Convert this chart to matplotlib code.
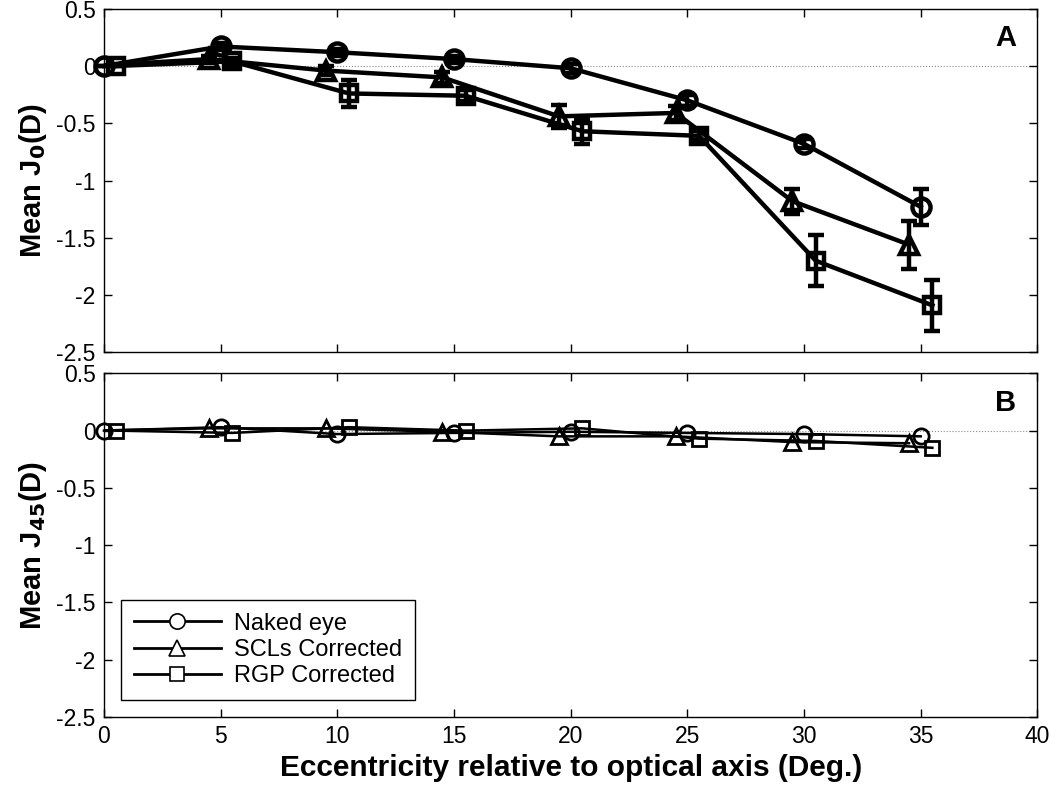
import matplotlib
matplotlib.use("Agg")
import matplotlib.pyplot as plt
from matplotlib.lines import Line2D

plt.rcParams['font.family'] = ['Liberation Sans', 'DejaVu Sans']

ecc = [0, 5, 10, 15, 20, 25, 30, 35]
x_naked = [0, 5, 10, 15, 20, 25, 30, 35]
x_scl = [-0.5, 4.5, 9.5, 14.5, 19.5, 24.5, 29.5, 34.5]
x_rgp = [0.5, 5.5, 10.5, 15.5, 20.5, 25.5, 30.5, 35.5]

# Panel A: Mean J0 (D)
j0_naked = [0.0, 0.17, 0.12, 0.06, -0.02, -0.30, -0.68, -1.23]
j0_naked_err = [0.0, 0.03, 0.03, 0.03, 0.04, 0.05, 0.04, 0.16]
j0_scl = [0.0, 0.06, -0.04, -0.10, -0.44, -0.41, -1.18, -1.56]
j0_scl_err = [0.0, 0.03, 0.04, 0.05, 0.10, 0.06, 0.11, 0.21]
j0_rgp = [0.0, 0.04, -0.24, -0.26, -0.57, -0.61, -1.70, -2.09]
j0_rgp_err = [0.0, 0.03, 0.12, 0.05, 0.11, 0.04, 0.22, 0.22]

# Panel B: Mean J45 (D)
j45_naked = [0.0, 0.03, -0.03, -0.02, -0.01, -0.02, -0.03, -0.05]
j45_scl = [0.0, 0.02, 0.02, -0.01, -0.05, -0.05, -0.10, -0.11]
j45_rgp = [0.0, -0.02, 0.03, 0.00, 0.02, -0.07, -0.09, -0.15]

legend_labels = ["Naked eye", "SCLs Corrected", "RGP Corrected"]
yticks = [-2.5, -2, -1.5, -1, -0.5, 0, 0.5]
ytick_labels = ["-2.5", "-2", "-1.5", "-1", "-0.5", "0", "0.5"]
xticks = [0, 5, 10, 15, 20, 25, 30, 35, 40]

fig = plt.figure(figsize=(10.5, 7.9), dpi=100)
axA = fig.add_axes([0.099, 0.554, 0.889, 0.435])
axB = fig.add_axes([0.099, 0.0924, 0.889, 0.435])

def style_axis(ax):
    ax.set_xlim(0, 40)
    ax.set_ylim(-2.5, 0.5)
    ax.set_yticks(yticks)
    ax.set_yticklabels(ytick_labels)
    ax.set_xticks(xticks)
    ax.tick_params(direction='in', top=True, right=True, length=6, width=1,
                   labelsize=16.5, pad=6)
    for s in ax.spines.values():
        s.set_linewidth(1.0)
    ax.axhline(0, color='0.55', lw=0.8, ls=':', zorder=1)

style_axis(axA)
style_axis(axB)
axA.set_xticklabels([])

series_A = [
    (x_naked, j0_naked, j0_naked_err, 'o', 13, False),
    (x_scl, j0_scl, j0_scl_err, '^', 13, True),
    (x_rgp, j0_rgp, j0_rgp_err, 's', 11, False),
]
for xs, ys, es, mk, ms, clip in series_A:
    cont = axA.errorbar(xs, ys, yerr=es, color='black', lw=3.2, marker=mk,
                        markersize=ms, markerfacecolor='none', markeredgewidth=3.2,
                        elinewidth=3.2, capsize=6, capthick=3.2, zorder=3)
    for art in cont.get_children():
        art.set_clip_on(clip)

series_B = [
    (x_naked, j45_naked, 'o', 11, False),
    (x_scl, j45_scl, '^', 11, True),
    (x_rgp, j45_rgp, 's', 9.5, False),
]
for (xs, ys, mk, ms, clip), lab in zip(series_B, legend_labels):
    axB.plot(xs, ys, color='black', lw=1.8, marker=mk, markersize=ms,
             markerfacecolor='none', markeredgewidth=2.0, zorder=3,
             label=lab, clip_on=clip)

leg_handles = [Line2D([], [], color='black', lw=2, marker=m, markersize=s,
                      markerfacecolor='white', markeredgewidth=1.2)
               for m, s in [('o', 11), ('^', 11), ('s', 10)]]
leg = axB.legend(leg_handles, legend_labels, loc='lower left',
                 bbox_to_anchor=(0.018, 0.049), borderaxespad=0,
                 fontsize=17, frameon=True,
                 fancybox=False, edgecolor='black', framealpha=1,
                 handlelength=3.7, borderpad=0.55, labelspacing=0.18,
                 handletextpad=0.55)
leg.get_frame().set_linewidth(1.0)

axA.text(0.977, 0.955, 'A', transform=axA.transAxes, ha='right', va='top',
         fontsize=21, fontweight='bold')
axB.text(0.977, 0.955, 'B', transform=axB.transAxes, ha='right', va='top',
         fontsize=21, fontweight='bold')

axA.set_ylabel(r'Mean J$_\mathbf{0}$(D)', fontsize=21, fontweight='bold', labelpad=5)
axB.set_ylabel(r'Mean J$_\mathbf{45}$(D)', fontsize=21, fontweight='bold', labelpad=5)
axB.set_xlabel('Eccentricity relative to optical axis (Deg.)', fontsize=21.5,
               fontweight='bold', labelpad=4)

fig.savefig('out.png', dpi=100)
